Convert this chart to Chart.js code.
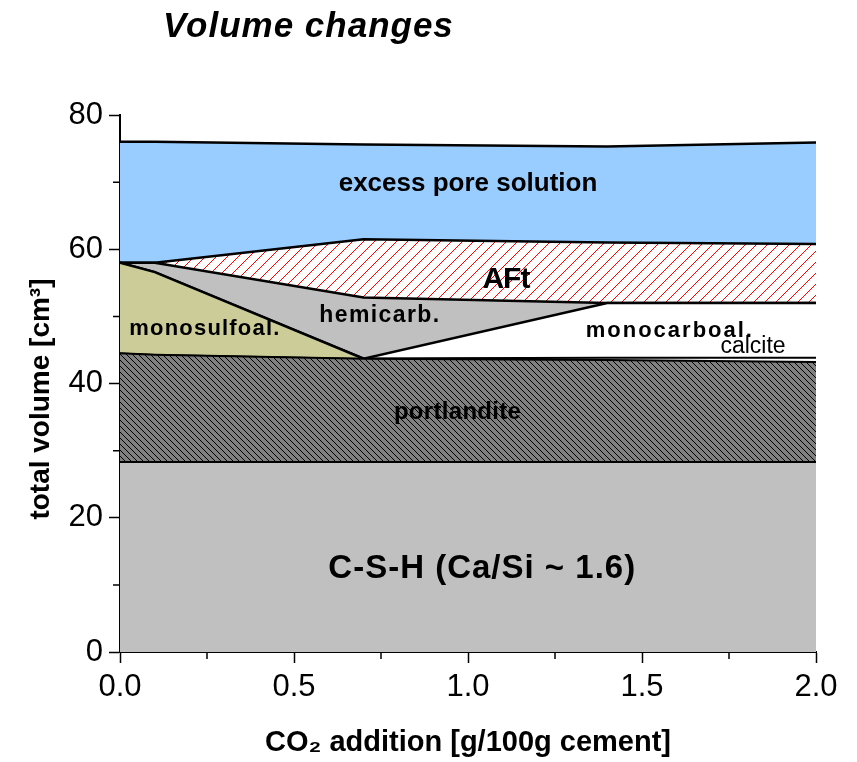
<!DOCTYPE html>
<html>
<head>
<meta charset="utf-8">
<title>Volume changes</title>
<script src="https://cdn.jsdelivr.net/npm/chart.js@4.4.1/dist/chart.umd.min.js"></script>
<style>
  html, body { margin: 0; padding: 0; background: #fff; }
</style>
</head>
<body>
<canvas id="chart" width="857" height="762"></canvas>
<script>
// CO2 addition steps [g/100g cement]
const co2 = [0, 0.1, 0.7, 1.4, 2.0]
// layer volumes in cm3, listed bottom to top (they get stacked)
const csh = [28.3, 28.3, 28.3, 28.3, 28.3]
const portlandite = [16.2, 16.0, 15.4, 15.2, 14.9]
const calcite = [0, 0, 0, 0.3, 0.6]
const monosulfoal = [13.5, 12.3, 0, 0, 0]
const monocarboal = [0, 0, 0, 8.2, 8.2]
const hemicarb = [0, 1.4, 9.1, 0, 0]
const aft = [0, 0, 8.7, 9.0, 8.8]
const poreSolution = [18.0, 18.0, 14.1, 14.3, 15.1]

const xTicks = [0, 0.5, 1.0, 1.5, 2.0]
const yTicks = [0, 20, 40, 60, 80]
const xMinor = [0.25, 0.75, 1.25, 1.75]
const yMinor = [10, 30, 50, 70]

const FONT = '"Liberation Sans", Arial, Helvetica, sans-serif'

const canvas = document.getElementById('chart')
const ctx = canvas.getContext('2d')

//hatch tiles -> canvas patterns for the fills
function hatch(size, bg, fg, dir) {
  const t = document.createElement('canvas')
  t.width = size
  t.height = size
  const c = t.getContext('2d')
  c.fillStyle = bg
  c.fillRect(0, 0, size, size)
  c.strokeStyle = fg
  c.lineWidth = 1
  c.beginPath()
  for (let k = -1; k <= 1; k++) {
    if (dir === '/') {
      c.moveTo(-1, size + 1 + k * size)
      c.lineTo(size + 1, -1 + k * size)
    } else {
      c.moveTo(-1, -1 + k * size)
      c.lineTo(size + 1, size + 1 + k * size)
    }
  }
  c.stroke()
  return ctx.createPattern(t, 'repeat')
}

const layers = [
  { label: 'C-S-H', data: csh, bg: '#c0c0c0', bw: 2 },
  { label: 'portlandite', data: portlandite, bg: hatch(6, '#808080', '#000', '\\'), bw: 2 },
  { label: 'calcite', data: calcite, bg: '#ffffff', bw: 1.5 },
  { label: 'monosulfoal.', data: monosulfoal, bg: '#cccc99', bw: 2.5 },
  { label: 'monocarboal.', data: monocarboal, bg: '#ffffff', bw: 2.5 },
  { label: 'hemicarb.', data: hemicarb, bg: '#c0c0c0', bw: 2.5 },
  { label: 'AFt', data: aft, bg: hatch(11, '#ffffff', '#ff0000', '/'), bw: 2.5 },
  { label: 'excess pore solution', data: poreSolution, bg: '#99ccff', bw: 2.5 }
]

// text inside the plot, placed in data units (baseline)
const notes = [
  { text: 'excess pore solution', x: 1.0, y: 68.7, font: 'bold 26px ' + FONT, sp: 0 },
  { text: 'AFt', x: 1.109, y: 54.2, font: 'bold 30px ' + FONT, sp: -1 },
  { text: 'hemicarb.', x: 0.747, y: 49.1, font: 'bold 23px ' + FONT, sp: 1.4 },
  { text: 'monosulfoal.', x: 0.244, y: 47.2, font: 'bold 22px ' + FONT, sp: 1.2 },
  { text: 'monocarboal.', x: 1.58, y: 46.9, font: 'bold 22px ' + FONT, sp: 2 },
  { text: 'calcite', x: 1.819, y: 44.5, font: '23px ' + FONT, sp: 0 },
  { text: 'portlandite', x: 0.970, y: 34.7, font: 'bold 24px ' + FONT, sp: 0.3 },
  { text: 'C-S-H (Ca/Si ~ 1.6)', x: 1.041, y: 11.0, font: 'bold 33px ' + FONT, sp: 1 }
]

const extras = {
  id: 'extras',
  afterDraw(chart) {
    const c = chart.ctx
    const xs = chart.scales.x
    const ys = chart.scales.y
    const area = chart.chartArea
    c.save()
    //minor ticks
    c.strokeStyle = '#000'
    c.lineWidth = 1.5
    c.beginPath()
    xMinor.forEach(v => {
      const px = xs.getPixelForValue(v)
      c.moveTo(px, area.bottom)
      c.lineTo(px, area.bottom + 7)
    })
    yMinor.forEach(v => {
      const py = ys.getPixelForValue(v)
      c.moveTo(area.left - 7, py)
      c.lineTo(area.left, py)
    })
    c.stroke()
    //labels
    c.fillStyle = '#000'
    c.textAlign = 'center'
    c.textBaseline = 'alphabetic'
    notes.forEach(n => {
      c.font = n.font
      c.letterSpacing = n.sp + 'px'
      c.fillText(n.text, xs.getPixelForValue(n.x), ys.getPixelForValue(n.y))
    })
    //title
    c.letterSpacing = '1px'
    c.textAlign = 'left'
    c.font = 'italic bold 35px ' + FONT
    c.fillText('Volume changes', 163, 37)
    c.restore()
  }
}

new Chart(ctx, {
  type: 'line',
  data: {
    datasets: layers.map((l, i) => ({
      label: l.label,
      data: co2.map((x, j) => ({ x: x, y: l.data[j] })),
      backgroundColor: l.bg,
      borderColor: '#000',
      borderWidth: l.bw,
      fill: i === 0 ? 'origin' : '-1',
      pointRadius: 0,
      tension: 0
    }))
  },
  options: {
    responsive: false,
    animation: false,
    layout: { padding: { top: 115, right: 41, left: 0, bottom: 0 } },
    plugins: {
      legend: { display: false },
      tooltip: { enabled: false }
    },
    scales: {
      x: {
        type: 'linear',
        min: 0,
        max: 2,
        border: { color: '#000', width: 2 },
        grid: { drawOnChartArea: false, drawTicks: true, tickLength: 11, tickWidth: 1.5, tickColor: '#000' },
        ticks: {
          color: '#000',
          font: { family: FONT, size: 31 },
          padding: 6,
          maxRotation: 0,
          autoSkip: false,
          callback: v => v.toFixed(1)
        },
        afterBuildTicks: s => { s.ticks = xTicks.map(v => ({ value: v })) },
        title: {
          display: true,
          text: 'CO₂ addition [g/100g cement]',
          color: '#000',
          font: { family: FONT, size: 29, weight: 'bold' },
          padding: { top: 0, bottom: 2 }
        },
        afterFit: s => { s.height = 110 }
      },
      y: {
        stacked: true,
        min: 0,
        max: 80,
        border: { color: '#000', width: 2 },
        grid: { drawOnChartArea: false, drawTicks: true, tickLength: 11, tickWidth: 1.5, tickColor: '#000' },
        ticks: {
          color: '#000',
          font: { family: FONT, size: 31 },
          padding: 6,
          autoSkip: false
        },
        afterBuildTicks: s => { s.ticks = yTicks.map(v => ({ value: v })) },
        title: {
          display: true,
          text: 'total volume [cm³]    ',
          color: '#000',
          font: { family: FONT, size: 28, weight: 'bold' },
          padding: { top: 24, bottom: 0 }
        },
        afterFit: s => { s.width = 120 }
      }
    }
  },
  plugins: [extras]
})
</script>
</body>
</html>
